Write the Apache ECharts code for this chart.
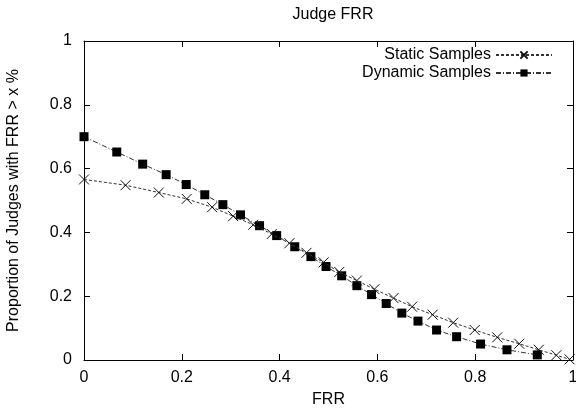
<!DOCTYPE html>
<html><head><meta charset="utf-8">
<script src="https://cdn.jsdelivr.net/npm/echarts@6/dist/echarts.min.js"></script>
<style>html,body{margin:0;padding:0;background:#fff}#c{width:576px;height:411px}</style>
</head><body><div id="c"></div>
<script>
const staticX = [0, 0.085, 0.153, 0.21, 0.262, 0.305, 0.346, 0.384, 0.42, 0.455, 0.49, 0.522, 0.558, 0.594, 0.633, 0.671, 0.713, 0.755, 0.799, 0.845, 0.89, 0.93, 0.966, 0.993];
const staticY = [0.566, 0.548, 0.525, 0.505, 0.479, 0.451, 0.424, 0.395, 0.366, 0.336, 0.306, 0.276, 0.249, 0.222, 0.194, 0.167, 0.142, 0.117, 0.094, 0.071, 0.051, 0.032, 0.015, 0.002];
const dynamicX = [0, 0.067, 0.12, 0.168, 0.209, 0.247, 0.284, 0.32, 0.359, 0.394, 0.431, 0.464, 0.495, 0.527, 0.558, 0.588, 0.618, 0.65, 0.683, 0.721, 0.762, 0.811, 0.865, 0.927];
const dynamicY = [0.70, 0.652, 0.614, 0.581, 0.55, 0.518, 0.487, 0.455, 0.421, 0.39, 0.355, 0.324, 0.293, 0.264, 0.233, 0.205, 0.177, 0.147, 0.122, 0.094, 0.073, 0.05, 0.032, 0.016];
const xTicks = [0, 0.2, 0.4, 0.6, 0.8, 1];
const yTicks = [0, 0.2, 0.4, 0.6, 0.8, 1];

const font = '"Liberation Sans", Arial, sans-serif';
const FS = 16;
const crossPath = 'path://M0,0L10,10M10,0L0,10';
const fmt = v => String(v);
const chart = echarts.init(document.getElementById('c'));
const baseAxis = {
  min: 0, max: 1, interval: 0.2,
  axisLine: { show: true, onZero: false, lineStyle: { color: '#000', width: 1 } },
  axisTick: { show: true, inside: true, length: 6, lineStyle: { color: '#000' } },
  splitLine: { show: false },
};
chart.setOption({
  animation: false,
  textStyle: { fontFamily: font },
  title: { text: 'Judge FRR', left: 328, top: 2, textAlign: 'center',
    textStyle: { fontFamily: font, fontSize: FS, fontWeight: 'normal', color: '#000' } },
  grid: { left: 84, right: 3, top: 41, bottom: 51, containLabel: false, outerBoundsMode: 'none' },
  legend: {
    right: 18, top: 42, orient: 'vertical', align: 'right', itemWidth: 56, itemHeight: 9, itemGap: 2,
    textStyle: { fontFamily: font, fontSize: FS, color: '#000' },
    data: ['Static Samples', 'Dynamic Samples']
  },
  xAxis: [
    Object.assign({}, baseAxis, { type: 'value', position: 'bottom',
      name: 'FRR', nameLocation: 'middle', nameGap: 32,
      nameTextStyle: { fontFamily: font, fontSize: FS, color: '#000' },
      axisLabel: { color: '#000', fontSize: FS, fontFamily: font, margin: 10, formatter: fmt } }),
    Object.assign({}, baseAxis, { type: 'value', position: 'top', axisLabel: { show: false } })
  ],
  yAxis: [
    Object.assign({}, baseAxis, { type: 'value', position: 'left',
      name: 'Proportion of Judges with FRR > x %', nameLocation: 'middle', nameGap: 62,
      nameTextStyle: { fontFamily: font, fontSize: FS, color: '#000' },
      axisLabel: { color: '#000', fontSize: FS, fontFamily: font, margin: 12, formatter: fmt } }),
    Object.assign({}, baseAxis, { type: 'value', position: 'right', axisLabel: { show: false } })
  ],
  series: [
    {
      name: 'Static Samples', type: 'line',
      data: staticX.map((x, i) => [x, staticY[i]]),
      symbol: crossPath, symbolSize: 10, showAllSymbol: true,
      lineStyle: { color: '#333', width: 1, type: [3, 2] },
      itemStyle: { color: 'none', borderColor: '#111', borderWidth: 1 },
      z: 3
    },
    {
      name: 'Dynamic Samples', type: 'line',
      data: dynamicX.map((x, i) => [x, dynamicY[i]]),
      symbol: 'rect', symbolSize: 9, showAllSymbol: true,
      lineStyle: { color: '#333', width: 1, type: [5, 2, 1, 2] },
      itemStyle: { color: '#000', borderWidth: 0 },
      z: 2
    }
  ]
});
</script></body></html>
